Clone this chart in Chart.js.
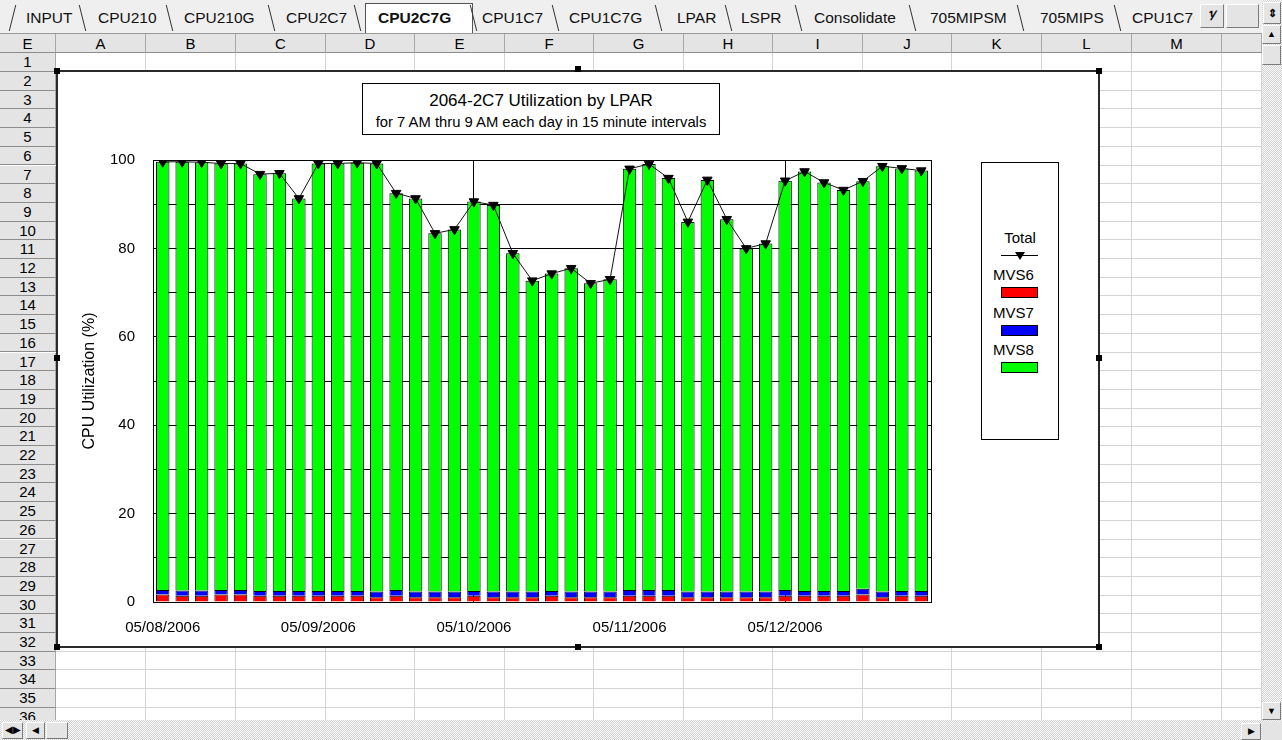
<!DOCTYPE html>
<html><head><meta charset="utf-8">
<script src="https://cdn.jsdelivr.net/npm/chart.js@4.4.1/dist/chart.umd.min.js"></script>
<style>
*{box-sizing:border-box}
html,body{margin:0;padding:0;background:#fff;overflow:hidden}
body{width:1282px;height:740px;position:relative;font-family:"Liberation Sans",Arial,sans-serif;color:#000}
#tabbar{position:absolute;left:0;top:0;width:1262px;height:34px;background:#efefef;border-bottom:1px solid #9a9a9a;overflow:hidden}
.tab{position:absolute;top:8px;font-size:15.5px;line-height:19px;white-space:nowrap;color:#111}
.sep{position:absolute;top:5px;width:0;height:26px;border-left:1.5px solid #333;transform:skewX(14deg)}
.hdr{position:absolute;background:#e4e4e4;font-size:15px;text-align:center;color:#000;border-right:1px solid #a8a8a8;border-bottom:1px solid #8c8c8c;overflow:hidden}
.btn{position:absolute;background:#e4e4e4;border:1px solid;border-color:#fff #7a7a7a #7a7a7a #fff}
.hatch{position:absolute;background-color:#fff;background-image:repeating-conic-gradient(#cfcfcf 0 25%,#fff 0 50%);background-size:2px 2px}
.gl{position:absolute;background:#d4d4d4}
.handle{position:absolute;width:6px;height:6px;background:#000}
.lt{position:absolute;font-size:15px;line-height:17px;white-space:nowrap}
</style></head>
<body>
<div id="tabbar"></div>
<div id="sheet" style="position:absolute;left:0;top:34px;width:1262px;height:686px;overflow:hidden"></div>
<div id="chartwrap" style="position:absolute;left:57px;top:71px;width:1042px;height:576px;background:#fff">
  <canvas id="c" width="1042" height="576" style="width:1042px;height:576px;display:block"></canvas>
</div>
<div style="position:absolute;left:56px;top:70px;width:1044px;height:578px;border:2px solid #2a2a2a"></div>
<div id="titlebox" style="position:absolute;left:362px;top:83px;width:358px;height:52px;border:1px solid #000;background:#fff">
  <div id="t1" style="position:absolute;left:0;top:7px;width:356px;text-align:center;font-size:17px;line-height:19px;white-space:nowrap"></div>
  <div id="t2" style="position:absolute;left:0;top:29.5px;width:356px;text-align:center;font-size:14.8px;line-height:17px;white-space:nowrap"></div>
</div>
<div id="legend" style="position:absolute;left:981px;top:162px;width:78px;height:278px;border:1px solid #000;background:#fff"></div>
<div id="chrome"></div>
<script>
// ---- chart data ----
const days = ['05/08/2006','05/09/2006','05/10/2006','05/11/2006','05/12/2006'];
const times = ['07:00','07:15','07:30','07:45','08:00','08:15','08:30','08:45'];
const categories = days.flatMap(d => times.map(t => d + ' ' + t));
const mvs6 = [1.7,1.4,1.4,1.7,1.7,1.4,1.4,1.4,1.4,1.4,1.4,1.1,1.4,1.1,1.1,1.1,1.4,1.1,1.1,1.1,1.4,1.1,1.1,1.1,1.4,1.4,1.4,1.1,1.1,1.1,1.1,1.1,1.4,1.4,1.4,1.4,1.7,1.1,1.4,1.4];
const mvs7 = [1.0,1.2,1.2,1.0,1.0,1.1,1.1,1.1,1.1,1.1,1.1,1.3,1.3,1.3,1.3,1.3,1.1,1.3,1.3,1.3,1.1,1.3,1.3,1.3,1.3,1.3,1.3,1.3,1.3,1.3,1.3,1.3,1.3,1.1,1.1,1.1,1.3,1.3,1.1,1.1];
const mvs8 = [96.9,97.0,96.9,96.5,96.5,94.3,94.5,88.8,96.7,96.7,96.9,96.8,89.8,88.9,81.0,81.9,88.1,87.4,76.5,70.3,71.8,73.1,69.7,70.6,95.3,96.4,93.2,83.6,93.1,84.2,77.6,78.7,92.6,94.9,92.4,90.7,92.2,96.2,95.6,95.1];
const total = [99.6,99.6,99.5,99.2,99.2,96.8,97.0,91.3,99.2,99.2,99.4,99.2,92.5,91.3,83.4,84.3,90.6,89.8,78.9,72.7,74.3,75.5,72.1,73.0,98.0,99.1,95.9,86.0,95.5,86.6,80.0,81.1,95.3,97.4,94.9,93.2,95.2,98.6,98.1,97.6];
const yTickLabels = [0,20,40,60,80,100];
const seriesNames = ['Total','MVS6','MVS7','MVS8'];
const seriesColors = ['#000000','#ff0000','#0000ff','#00ff00'];
const titleText = '2064-2C7 Utilization by LPAR';
const subtitleText = 'for 7 AM thru 9 AM each day in 15 minute intervals';
const yTitle = 'CPU Utilization (%)';

// ---- spreadsheet chrome ----
const tabs = [['INPUT',26],['CPU210',98],['CPU210G',184],['CPU2C7',286],['CPU2C7G',378],['CPU1C7',482],['CPU1C7G',569],['LPAR',677],['LSPR',741],['Consolidate',814],['705MIPSM',930],['705MIPS',1040],['CPU1C7G',1132]];
const seps = [82,169,271,357,473,555,658,728,798,912,1020,1117];
const tb = document.getElementById('tabbar');
let h = '<div style="position:absolute;left:365px;top:3px;width:108px;height:32px;background:#fff;border:1px solid #555;border-bottom:none"></div>';
tabs.forEach(([t,x],i)=>{ h += `<div class="tab" style="left:${x}px;${i===4?'font-weight:bold;':''}${i===12?'width:62px;overflow:hidden;':''}">${t}</div>`; });
seps.forEach(x=>{ h += `<div class="sep" style="left:${x}px"></div>`; });
h += '<div class="sep" style="left:12px;transform:skewX(-14deg)"></div>';
tb.innerHTML = h;

const colEdges=[56,146,236,326,415,505,594,684,773,863,952,1042,1132,1222,1262];
const colNames=['A','B','C','D','E','F','G','H','I','J','K','L','M',''];
const sh = document.getElementById('sheet');
let s = '';
const rowTop = r => 19.3 + (r-1)*18.7; // relative to sheet top (34)
for (let i=0;i<colEdges.length-1;i++){
  s += `<div class="gl" style="left:${colEdges[i+1]-1}px;top:19px;width:1px;height:700px"></div>`;
}
for (let r=1;r<=37;r++){
  s += `<div class="gl" style="left:56px;top:${rowTop(r)+17.7}px;width:1206px;height:1px"></div>`;
}
s += `<div class="hdr" style="left:0;top:0;width:56px;height:19.3px;line-height:19px">E</div>`;
for (let i=0;i<colEdges.length-1;i++){
  s += `<div class="hdr" style="left:${colEdges[i]}px;top:0;width:${colEdges[i+1]-colEdges[i]}px;height:19.3px;line-height:19px">${colNames[i]}</div>`;
}
for (let r=1;r<=36;r++){
  s += `<div class="hdr" style="left:0;top:${rowTop(r)}px;width:56px;height:18.7px;line-height:18px">${r}</div>`;
}
sh.innerHTML = s;

const ch = document.getElementById('chrome');
let c = '';
// bottom bar
c += '<div class="hatch" style="left:0;top:720px;width:1262px;height:20px"></div>';
c += '<div class="btn" style="left:2px;top:722px;width:21px;height:17px;font-size:10px;line-height:14px;text-align:center">&#9664;&#9654;</div>';
c += '<div class="btn" style="left:26px;top:722px;width:19px;height:17px;font-size:9px;line-height:15px;text-align:center">&#9664;</div>';
c += '<div class="btn" style="left:46px;top:722px;width:22px;height:17px"></div>';
c += '<div class="btn" style="left:1241px;top:723px;width:20px;height:17px;font-size:9px;line-height:15px;text-align:center">&#9654;</div>';
c += '<div style="position:absolute;left:1262px;top:722px;width:20px;height:18px;background:#e4e4e4"></div>';
// vertical scrollbar
c += '<div class="hatch" style="left:1262px;top:0;width:20px;height:722px"></div>';
c += '<div class="btn" style="left:1263px;top:2px;width:18px;height:22px;font-size:11px;line-height:20px;text-align:center;font-weight:bold">&#8661;</div>';
c += '<div class="btn" style="left:1262px;top:25px;width:19px;height:19px;font-size:9px;line-height:17px;text-align:center">&#9650;</div>';
c += '<div class="btn" style="left:1262px;top:45px;width:19px;height:20px"></div>';
c += '<div class="btn" style="left:1262px;top:702px;width:19px;height:18px;font-size:9px;line-height:16px;text-align:center">&#9660;</div>';
// tab bar buttons
c += '<div class="btn" style="left:1200px;top:4px;width:24px;height:24px;font-size:13px;line-height:21px;text-align:center;font-weight:bold">&#8543;</div>';
c += '<div class="btn" style="left:1226px;top:4px;width:33px;height:24px"></div>';
// handles
[[57,71],[578,69],[1099,71],[57,358],[1099,358],[57,647],[578,647],[1099,647]].forEach(([x,y])=>{
  c += `<div class="handle" style="left:${x-3}px;top:${y-3}px"></div>`;
});
ch.innerHTML = c;

// ---- title + legend (text from arrays) ----
document.getElementById('t1').textContent = titleText;
document.getElementById('t2').textContent = subtitleText;
const lg = document.getElementById('legend');
let L = '';
L += `<div class="lt" style="left:0;width:76px;text-align:center;top:${229-163}px">${seriesNames[0]}</div>`;
L += `<div style="position:absolute;left:${1001-982}px;top:${255-163}px;width:37px;height:1px;background:#000"></div>`;
L += `<div style="position:absolute;left:${1020-982-5}px;top:${255-163-3}px;width:0;height:0;border-left:5px solid transparent;border-right:5px solid transparent;border-top:8px solid #000"></div>`;
const lTops=[266.3,304,341.3], bTops=[287,324.5,362];
for (let i=1;i<4;i++){
  L += `<div class="lt" style="left:${993-982}px;top:${lTops[i-1]-163}px">${seriesNames[i]}</div>`;
  L += `<div style="position:absolute;left:${1001-982}px;top:${bTops[i-1]-163}px;width:37px;height:11px;background:${seriesColors[i]};border:1px solid #000"></div>`;
}
lg.innerHTML = L;

// ---- chart ----
Chart.defaults.font.family = '"Liberation Sans", Arial, sans-serif';
Chart.defaults.color = '#000';
const plotBorder = {
  id:'plotBorder',
  beforeDatasetsDraw(chart){
    const {ctx, chartArea:a} = chart;
    ctx.save(); ctx.strokeStyle='#000'; ctx.lineWidth=1;
    ctx.strokeRect(Math.round(a.left)+0.5, Math.round(a.top)+0.5, Math.round(a.right-a.left), Math.round(a.bottom-a.top));
    ctx.restore();
  }
};
new Chart(document.getElementById('c'), {
  type:'bar',
  data:{
    labels: categories,
    datasets:[
      {type:'line', label:seriesNames[0], data:total, stack:'tot', order:0, borderColor:'#111', borderWidth:1, tension:0, fill:false,
       pointStyle:'triangle', pointRotation:180, pointRadius:5.5, pointBackgroundColor:'#000', pointBorderColor:'#000', pointBorderWidth:1},
      {label:seriesNames[1], data:mvs6, backgroundColor:seriesColors[1], borderColor:'#000', borderWidth:1, stack:'lpar', order:1},
      {label:seriesNames[2], data:mvs7, backgroundColor:seriesColors[2], borderColor:'#000', borderWidth:1, stack:'lpar', order:1},
      {label:seriesNames[3], data:mvs8, backgroundColor:seriesColors[3], borderColor:'#000', borderWidth:1, stack:'lpar', order:1}
    ]
  },
  options:{
    responsive:false, animation:false, devicePixelRatio:1,
    layout:{padding:{left:0,right:168,top:89,bottom:0}},
    plugins:{legend:{display:false}, title:{display:false}, tooltip:{enabled:false}},
    datasets:{bar:{categoryPercentage:1, barPercentage:0.69}},
    scales:{
      x:{stacked:true,
         grid:{offset:false, drawTicks:false, lineWidth:1, color:(ctx)=> (ctx.index===16||ctx.index===32)?'#000':'rgba(0,0,0,0)'},
         border:{display:false},
         ticks:{autoSkip:false, maxRotation:0, minRotation:0, padding:17, font:{size:15}, color:'#000',
                callback:(v,i)=> i%times.length===0 ? days[i/times.length] : ''},
         afterFit:(sc)=>{sc.height=45;}},
      y:{stacked:true, min:0, max:100,
         ticks:{stepSize:10, padding:18, font:{size:15}, color:'#000', callback:(v)=> yTickLabels.includes(v)? String(v) : ''},
         grid:{drawTicks:false, color:'#000', lineWidth:1},
         border:{display:false},
         title:{display:true, text:yTitle, font:{size:16}, color:'#000', padding:{top:23,bottom:0}},
         afterFit:(sc)=>{sc.width=96;}}
    }
  },
  plugins:[plotBorder]
});
</script>
</body></html>
